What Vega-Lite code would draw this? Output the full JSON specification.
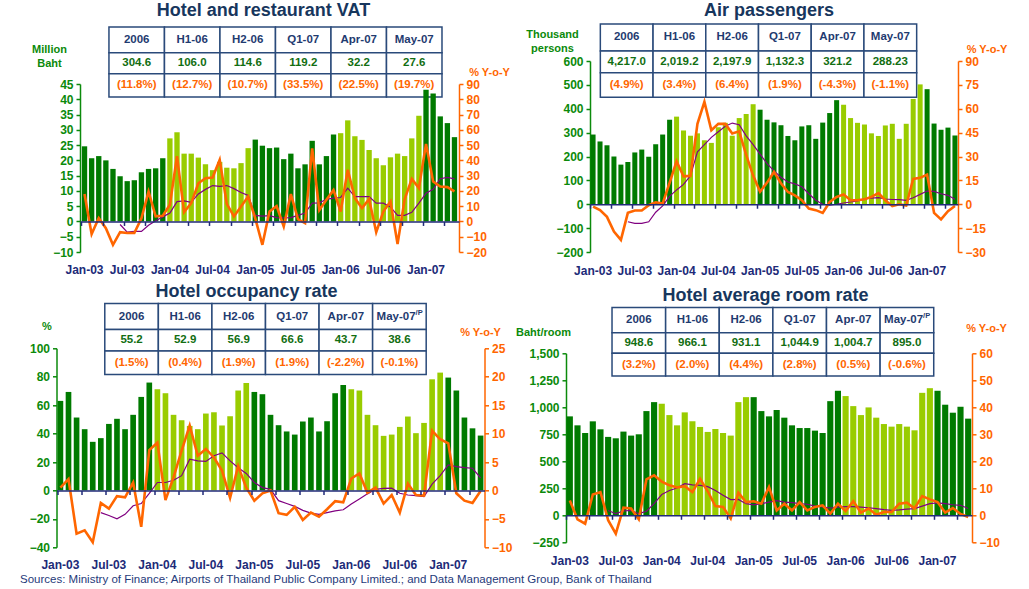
{
"$schema": "https://vega.github.io/schema/vega-lite/v6.json",
"padding": {"left": 10, "top": 1, "right": 5, "bottom": 3},
"config": {"view": {"stroke": null}, "font": "Liberation Sans", "axis": {"labelFont": "Liberation Sans", "titleFont": "Liberation Sans"}, "text": {"font": "Liberation Sans"}, "title": {"font": "Liberation Sans"}},
"title": {"text": "Sources: Ministry of Finance; Airports of Thailand Public Company Limited.; and Data Management Group, Bank of Thailand", "orient": "bottom", "anchor": "start", "frame": "group", "dx": 10, "offset": 4, "fontSize": 11.5, "fontWeight": "normal", "color": "#1F3A7A"},
"datasets": {
"vat": [
{"m":"Jan-03","v":24.6,"y":18,"a":null},{"m":"Feb-03","v":20.7,"y":-8.3,"a":null},{"m":"Mar-03","v":21.4,"y":2.2,"a":null},{"m":"Apr-03","v":20.0,"y":-4.4,"a":null},{"m":"May-03","v":17.2,"y":-15.3,"a":null},{"m":"Jun-03","v":14.8,"y":-7.0,"a":-2.0},{"m":"Jul-03","v":13.2,"y":-7.6,"a":-7.0},{"m":"Aug-03","v":13.5,"y":-7.6,"a":-6.5},{"m":"Sep-03","v":16.1,"y":2.0,"a":-6.5},{"m":"Oct-03","v":17.2,"y":19.5,"a":-2.5},{"m":"Nov-03","v":17.4,"y":3.3,"a":0.5},{"m":"Dec-03","v":20.7,"y":3.7,"a":3.0},
{"m":"Jan-04","v":27.2,"y":10.9,"a":5.5},{"m":"Feb-04","v":29.2,"y":42.7,"a":13.0},{"m":"Mar-04","v":22.2,"y":6.1,"a":13.5},{"m":"Apr-04","v":22.2,"y":12.0,"a":12.5},{"m":"May-04","v":20.9,"y":25.0,"a":18.0},{"m":"Jun-04","v":18.7,"y":28.3,"a":21.0},{"m":"Jul-04","v":16.8,"y":28.8,"a":23.5},{"m":"Aug-04","v":19.5,"y":40.3,"a":23.0},{"m":"Sep-04","v":17.6,"y":11.5,"a":23.5},{"m":"Oct-04","v":17.4,"y":3.3,"a":21.5},{"m":"Nov-04","v":19.1,"y":9.8,"a":19.0},{"m":"Dec-04","v":24.0,"y":16.3,"a":17.0},
{"m":"Jan-05","v":26.8,"y":2.0,"a":4.0},{"m":"Feb-05","v":24.8,"y":-15.3,"a":3.5},{"m":"Mar-05","v":24.0,"y":6.5,"a":3.8},{"m":"Apr-05","v":24.2,"y":10.0,"a":2.5},{"m":"May-05","v":20.4,"y":-3.3,"a":2.3},{"m":"Jun-05","v":22.2,"y":17.9,"a":2.5},{"m":"Jul-05","v":17.4,"y":1.5,"a":4.0},{"m":"Aug-05","v":18.7,"y":-1.1,"a":5.5},{"m":"Sep-05","v":26.4,"y":47.9,"a":12.0},{"m":"Oct-05","v":18.7,"y":7.4,"a":12.2},{"m":"Nov-05","v":21.4,"y":14.2,"a":14.5},{"m":"Dec-05","v":28.5,"y":20.5,"a":15.3},
{"m":"Jan-06","v":28.9,"y":6.5,"a":15.7},{"m":"Feb-06","v":33.1,"y":33.8,"a":21.8},{"m":"Mar-06","v":27.9,"y":15.3,"a":16.3},{"m":"Apr-06","v":26.7,"y":8.7,"a":16.3},{"m":"May-06","v":23.4,"y":14.6,"a":16.3},{"m":"Jun-06","v":20.7,"y":-7.0,"a":12.0},{"m":"Jul-06","v":18.4,"y":6.5,"a":12.0},{"m":"Aug-06","v":21.0,"y":13.0,"a":9.5},{"m":"Sep-06","v":22.2,"y":-14.8,"a":4.0},{"m":"Oct-06","v":21.4,"y":14.6,"a":4.0},{"m":"Nov-06","v":27.2,"y":27.9,"a":6.0},{"m":"Dec-06","v":34.6,"y":21.8,"a":12.0},
{"m":"Jan-07","v":43.1,"y":50.8,"a":18.5},{"m":"Feb-07","v":41.9,"y":26.1,"a":21.0},{"m":"Mar-07","v":34.4,"y":22.9,"a":28.0},{"m":"Apr-07","v":32.2,"y":22.5,"a":28.8},{"m":"May-07","v":27.6,"y":19.7,"a":27.9}
],
"air": [
{"m":"Jan-03","v":292,"y":-1.5,"a":null},{"m":"Feb-03","v":263,"y":-3.7,"a":null},{"m":"Mar-03","v":247,"y":-7.9,"a":null},{"m":"Apr-03","v":200,"y":-17.2,"a":null},{"m":"May-03","v":166,"y":-22.4,"a":null},{"m":"Jun-03","v":177,"y":-5.4,"a":-11},{"m":"Jul-03","v":217,"y":-3.9,"a":-12},{"m":"Aug-03","v":229,"y":-3.9,"a":-12},{"m":"Sep-03","v":199,"y":-0.6,"a":-11},{"m":"Oct-03","v":251,"y":1.2,"a":-5},{"m":"Nov-03","v":292,"y":0.4,"a":-1},{"m":"Dec-03","v":354,"y":13.5,"a":5},
{"m":"Jan-04","v":367,"y":27.0,"a":9},{"m":"Feb-04","v":309,"y":17.5,"a":12.5},{"m":"Mar-04","v":287,"y":17.8,"a":18},{"m":"Apr-04","v":297,"y":50.5,"a":33},{"m":"May-04","v":268,"y":64.3,"a":37.5},{"m":"Jun-04","v":257,"y":46.5,"a":42},{"m":"Jul-04","v":323,"y":50.5,"a":45.5},{"m":"Aug-04","v":341,"y":50.5,"a":49},{"m":"Sep-04","v":287,"y":44.4,"a":51},{"m":"Oct-04","v":361,"y":45.8,"a":50},{"m":"Nov-04","v":378,"y":31.0,"a":43},{"m":"Dec-04","v":419,"y":18.0,"a":37.5},
{"m":"Jan-05","v":396,"y":7.9,"a":31.5},{"m":"Feb-05","v":354,"y":13.6,"a":25.5},{"m":"Mar-05","v":343,"y":20.3,"a":21},{"m":"Apr-05","v":331,"y":13.2,"a":17},{"m":"May-05","v":286,"y":7.7,"a":14},{"m":"Jun-05","v":268,"y":5.6,"a":12.8},{"m":"Jul-05","v":326,"y":2.5,"a":11},{"m":"Aug-05","v":331,"y":-2.7,"a":6.6},{"m":"Sep-05","v":274,"y":-3.7,"a":2.5},{"m":"Oct-05","v":342,"y":-5.4,"a":0},{"m":"Nov-05","v":382,"y":1.4,"a":-0.6},{"m":"Dec-05","v":436,"y":4.6,"a":0},
{"m":"Jan-06","v":417,"y":6.2,"a":0.8},{"m":"Feb-06","v":361,"y":2.5,"a":1.4},{"m":"Mar-06","v":341,"y":2.5,"a":2.1},{"m":"Apr-06","v":334,"y":3.1,"a":3.3},{"m":"May-06","v":297,"y":4.6,"a":3.9},{"m":"Jun-06","v":286,"y":7.0,"a":4.1},{"m":"Jul-06","v":330,"y":2.5,"a":3.3},{"m":"Aug-06","v":337,"y":-1.2,"a":3.0},{"m":"Sep-06","v":274,"y":0.0,"a":2.9},{"m":"Oct-06","v":337,"y":-0.8,"a":2.5},{"m":"Nov-06","v":441,"y":15.9,"a":4.1},{"m":"Dec-06","v":502,"y":16.6,"a":6.2},
{"m":"Jan-07","v":482,"y":18.6,"a":8.3},{"m":"Feb-07","v":338,"y":-5.4,"a":8.1},{"m":"Mar-07","v":312,"y":-9.5,"a":6.6},{"m":"Apr-07","v":321,"y":-4.3,"a":5.6},{"m":"May-07","v":288,"y":-1.1,"a":3.1}
],
"occ": [
{"m":"Jan-03","v":63.0,"y":0.5,"a":null},{"m":"Feb-03","v":69.3,"y":2.0,"a":null},{"m":"Mar-03","v":51.3,"y":-7.6,"a":null},{"m":"Apr-03","v":43.1,"y":-7.0,"a":null},{"m":"May-03","v":34.2,"y":-9.1,"a":null},{"m":"Jun-03","v":36.8,"y":-2.2,"a":-3.9},{"m":"Jul-03","v":46.8,"y":-3.2,"a":-4.4},{"m":"Aug-03","v":50.4,"y":-1.0,"a":-5.0},{"m":"Sep-03","v":43.1,"y":-1.2,"a":-4.2},{"m":"Oct-03","v":53.2,"y":1.4,"a":-2.7},{"m":"Nov-03","v":65.8,"y":-6.4,"a":-2.3},{"m":"Dec-03","v":75.9,"y":7.1,"a":-0.5},
{"m":"Jan-04","v":71.2,"y":8.4,"a":1.4},{"m":"Feb-04","v":68.4,"y":-1.7,"a":1.4},{"m":"Mar-04","v":53.2,"y":2.3,"a":1.8},{"m":"Apr-04","v":49.4,"y":7.0,"a":2.6},{"m":"May-04","v":45.4,"y":11.4,"a":5.5},{"m":"Jun-04","v":43.1,"y":6.1,"a":5.2},{"m":"Jul-04","v":54.1,"y":7.3,"a":5.1},{"m":"Aug-04","v":55.0,"y":5.8,"a":6.1},{"m":"Sep-04","v":45.7,"y":3.5,"a":6.6},{"m":"Oct-04","v":52.2,"y":-1.3,"a":5.2},{"m":"Nov-04","v":70.3,"y":4.3,"a":4.0},{"m":"Dec-04","v":75.6,"y":0.5,"a":3.0},
{"m":"Jan-05","v":69.3,"y":-1.8,"a":1.4},{"m":"Feb-05","v":67.7,"y":-0.5,"a":0.5},{"m":"Mar-05","v":53.2,"y":0.0,"a":0.2},{"m":"Apr-05","v":45.9,"y":-4.0,"a":-1.8},{"m":"May-05","v":41.5,"y":-4.3,"a":-2.3},{"m":"Jun-05","v":39.3,"y":-2.9,"a":-2.8},{"m":"Jul-05","v":48.5,"y":-5.2,"a":-3.5},{"m":"Aug-05","v":51.3,"y":-3.9,"a":-4.0},{"m":"Sep-05","v":41.5,"y":-4.6,"a":-4.2},{"m":"Oct-05","v":48.7,"y":-3.3,"a":-3.9},{"m":"Nov-05","v":68.4,"y":-1.9,"a":-3.6},{"m":"Dec-05","v":74.2,"y":-2.1,"a":-3.4},
{"m":"Jan-06","v":71.2,"y":2.1,"a":-2.4},{"m":"Feb-06","v":70.3,"y":3.0,"a":-1.5},{"m":"Mar-06","v":53.2,"y":-0.4,"a":-0.6},{"m":"Apr-06","v":45.9,"y":0.5,"a":0.2},{"m":"May-06","v":38.4,"y":-2.3,"a":0.35},{"m":"Jun-06","v":39.3,"y":-0.8,"a":0.4},{"m":"Jul-06","v":44.7,"y":-3.9,"a":-0.5},{"m":"Aug-06","v":52.0,"y":1.2,"a":-0.8},{"m":"Sep-06","v":40.3,"y":-0.8,"a":-0.9},{"m":"Oct-06","v":47.5,"y":-0.9,"a":-1.1},{"m":"Nov-06","v":78.2,"y":10.5,"a":1.1},{"m":"Dec-06","v":82.9,"y":9.0,"a":2.6},
{"m":"Jan-07","v":79.4,"y":8.3,"a":4.5},{"m":"Feb-07","v":70.3,"y":-0.5,"a":4.2},{"m":"Mar-07","v":51.3,"y":-1.8,"a":4.0},{"m":"Apr-07","v":43.7,"y":-2.2,"a":3.9},{"m":"May-07","v":38.6,"y":-0.1,"a":2.2}
],
"room": [
{"m":"Jan-03","v":916,"y":5.5,"a":null},{"m":"Feb-03","v":833,"y":-1.5,"a":null},{"m":"Mar-03","v":762,"y":-3.1,"a":null},{"m":"Apr-03","v":870,"y":7.7,"a":null},{"m":"May-03","v":796,"y":8.6,"a":null},{"m":"Jun-03","v":726,"y":-1.8,"a":1.8},{"m":"Jul-03","v":713,"y":-6.8,"a":0.6},{"m":"Aug-03","v":775,"y":2.8,"a":1.6},{"m":"Sep-03","v":738,"y":2.5,"a":1.8},{"m":"Oct-03","v":750,"y":-1.5,"a":0.6},{"m":"Nov-03","v":965,"y":13.3,"a":1.5},{"m":"Dec-03","v":1048,"y":14.8,"a":4.3},
{"m":"Jan-04","v":1033,"y":12.5,"a":7.7},{"m":"Feb-04","v":928,"y":11.1,"a":9.2},{"m":"Mar-04","v":833,"y":10.3,"a":10.1},{"m":"Apr-04","v":953,"y":10.8,"a":11.7},{"m":"May-04","v":870,"y":8.6,"a":11.3},{"m":"Jun-04","v":818,"y":13.5,"a":11.1},{"m":"Jul-04","v":772,"y":8.9,"a":10.6},{"m":"Aug-04","v":799,"y":3.4,"a":9.2},{"m":"Sep-04","v":762,"y":3.1,"a":7.4},{"m":"Oct-04","v":738,"y":-1.2,"a":5.8},{"m":"Nov-04","v":1048,"y":8.4,"a":5.9},{"m":"Dec-04","v":1094,"y":4.9,"a":4.3},
{"m":"Jan-05","v":1094,"y":5.2,"a":3.9},{"m":"Feb-05","v":965,"y":4.3,"a":4.3},{"m":"Mar-05","v":916,"y":10.5,"a":4.9},{"m":"Apr-05","v":975,"y":1.8,"a":5.4},{"m":"May-05","v":904,"y":4.3,"a":4.9},{"m":"Jun-05","v":833,"y":1.8,"a":4.7},{"m":"Jul-05","v":808,"y":4.9,"a":4.3},{"m":"Aug-05","v":808,"y":1.8,"a":4.1},{"m":"Sep-05","v":784,"y":3.1,"a":3.4},{"m":"Oct-05","v":762,"y":3.7,"a":3.1},{"m":"Nov-05","v":1057,"y":0.6,"a":2.7},{"m":"Dec-05","v":1153,"y":4.3,"a":3.0},
{"m":"Jan-06","v":1104,"y":1.6,"a":3.2},{"m":"Feb-06","v":1011,"y":5.2,"a":3.2},{"m":"Mar-06","v":928,"y":1.0,"a":3.0},{"m":"Apr-06","v":999,"y":2.5,"a":2.8},{"m":"May-06","v":904,"y":0.2,"a":2.5},{"m":"Jun-06","v":845,"y":1.2,"a":2.1},{"m":"Jul-06","v":821,"y":1.2,"a":1.8},{"m":"Aug-06","v":845,"y":4.3,"a":2.0},{"m":"Sep-06","v":821,"y":4.7,"a":2.3},{"m":"Oct-06","v":787,"y":2.5,"a":2.5},{"m":"Nov-06","v":1134,"y":7.1,"a":3.4},{"m":"Dec-06","v":1177,"y":5.9,"a":4.3},
{"m":"Jan-07","v":1153,"y":4.9,"a":4.6},{"m":"Feb-07","v":1024,"y":1.0,"a":4.3},{"m":"Mar-07","v":950,"y":2.7,"a":3.9},{"m":"Apr-07","v":1005,"y":0.5,"a":3.7},{"m":"May-07","v":895,"y":-0.6,"a":2.5}
],
"t_vat": [{"h":"2006","v":"304.6","p":"(11.8%)"},{"h":"H1-06","v":"106.0","p":"(12.7%)"},{"h":"H2-06","v":"114.6","p":"(10.7%)"},{"h":"Q1-07","v":"119.2","p":"(33.5%)"},{"h":"Apr-07","v":"32.2","p":"(22.5%)"},{"h":"May-07","v":"27.6","p":"(19.7%)"}],
"t_air": [{"h":"2006","v":"4,217.0","p":"(4.9%)"},{"h":"H1-06","v":"2,019.2","p":"(3.4%)"},{"h":"H2-06","v":"2,197.9","p":"(6.4%)"},{"h":"Q1-07","v":"1,132.3","p":"(1.9%)"},{"h":"Apr-07","v":"321.2","p":"(-4.3%)"},{"h":"May-07","v":"288.23","p":"(-1.1%)"}],
"t_occ": [{"h":"2006","v":"55.2","p":"(1.5%)"},{"h":"H1-06","v":"52.9","p":"(0.4%)"},{"h":"H2-06","v":"56.9","p":"(1.9%)"},{"h":"Q1-07","v":"66.6","p":"(1.9%)"},{"h":"Apr-07","v":"43.7","p":"(-2.2%)"},{"h":"May-07","s":"/P","v":"38.6","p":"(-0.1%)"}],
"t_room": [{"h":"2006","v":"948.6","p":"(3.2%)"},{"h":"H1-06","v":"966.1","p":"(2.0%)"},{"h":"H2-06","v":"931.1","p":"(4.4%)"},{"h":"Q1-07","v":"1,044.9","p":"(2.8%)"},{"h":"Apr-07","v":"1,004.7","p":"(0.5%)"},{"h":"May-07","s":"/P","v":"895.0","p":"(-0.6%)"}]
},
"spacing": 5.3,
"vconcat": [
{"hconcat": [
 {"width": 5.5, "height": 1, "data": {"values": []}, "mark": "point"},
 {"vconcat": [
  {"width": 1, "height": 1, "data": {"values": []}, "mark": "point"},
  {"width": 379, "height": 168,
  "title": {"text": "Hotel and restaurant VAT", "frame": "group", "anchor": "middle", "dx": -6, "offset": 6, "fontSize": 18, "fontWeight": "bold", "color": "#17365D"},
  "layer": [
   {"data": {"name": "t_vat"},
    "encoding": {"x": {"field": "h", "type": "nominal", "sort": null, "scale": {"type": "band", "paddingInner": 0, "paddingOuter": 0.414, "align": 0.63}, "axis": null}},
    "layer": [
     {"mark": {"type": "rect", "fill": "#FFFFFF", "stroke": "#2A4A7A", "strokeWidth": 1.5}, "encoding": {"y": {"datum": 1.9, "type": "quantitative", "scale": {"domain": [-6.643, 0.557], "nice": false, "zero": false}, "axis": null}, "y2": {"datum": 3}}},
     {"mark": {"type": "rect", "fill": "#FFFFFF", "stroke": "#2A4A7A", "strokeWidth": 1.5}, "encoding": {"y": {"datum": 1, "type": "quantitative", "axis": null}, "y2": {"datum": 1.9}}},
     {"mark": {"type": "rect", "fill": "#FFFFFF", "stroke": "#2A4A7A", "strokeWidth": 1.5}, "encoding": {"y": {"datum": 0, "type": "quantitative", "axis": null}, "y2": {"datum": 1}}},
     {"mark": {"type": "text", "fontSize": 11.5, "fontWeight": "bold", "color": "#1F3B70", "baseline": "middle"}, "encoding": {"y": {"datum": 2.45, "type": "quantitative", "axis": null}, "text": {"field": "h"}}},
     {"mark": {"type": "text", "fontSize": 11.5, "fontWeight": "bold", "color": "#126E12", "baseline": "middle"}, "encoding": {"y": {"datum": 1.45, "type": "quantitative", "axis": null}, "text": {"field": "v"}}},
     {"mark": {"type": "text", "fontSize": 11.5, "fontWeight": "bold", "color": "#FF6600", "baseline": "middle"}, "encoding": {"y": {"datum": 0.5, "type": "quantitative", "axis": null}, "text": {"field": "p"}}}
    ]},
   {"data": {"name": "vat"},
    "layer": [
     {"mark": {"type": "bar"},
      "encoding": {
       "x": {"field": "m", "type": "ordinal", "sort": null, "scale": {"type": "band", "paddingInner": 0.25, "paddingOuter": 0.26},
             "axis": {"values": ["Jan-03","Jul-03","Jan-04","Jul-04","Jan-05","Jul-05","Jan-06","Jul-06","Jan-07"], "domain": false, "ticks": false, "grid": false, "labelAngle": 0, "labelPadding": 12, "labelFontSize": 12, "labelFontWeight": "bold", "labelColor": "#202A78", "labelOverlap": false, "labelFlush": false, "title": null}},
       "y": {"field": "v", "type": "quantitative", "scale": {"domain": [-10, 45], "nice": false},
             "axis": {"orient": "left", "values": [-10,-5,0,5,10,15,20,25,30,35,40,45], "grid": false, "domainColor": "#0B8A0B", "domainWidth": 1.5, "tickColor": "#0B8A0B", "tickWidth": 1.5, "tickSize": 4, "labelColor": "#0B8A0B", "labelFontSize": 12, "labelFontWeight": "bold", "labelPadding": 3, "labelFlush": false, "labelOverlap": false,
                      "title": ["Million", "Baht"], "titleAngle": 0, "titleX": -31, "titleY": -41, "titleAlign": "center", "titleBaseline": "top", "titleColor": "#0B8A0B", "titleFontSize": 11, "titleFontWeight": "bold", "titleLineHeight": 14}},
       "color": {"condition": {"test": "test(/-0[357]$/, datum.m)", "value": "#007A00"}, "value": "#99CC00"}
      }},
     {"mark": {"type": "line", "color": "#800080", "strokeWidth": 1.2},
      "encoding": {
       "x": {"field": "m", "type": "ordinal", "sort": null, "scale": {"type": "band", "paddingInner": 0.25, "paddingOuter": 0.26}, "axis": null},
       "y": {"field": "a", "type": "quantitative", "scale": {"domain": [-20, 90], "nice": false}, "axis": null}
      }},
     {"mark": {"type": "line", "color": "#FF6600", "strokeWidth": 2.6},
      "encoding": {
       "x": {"field": "m", "type": "ordinal", "sort": null, "scale": {"type": "band", "paddingInner": 0.25, "paddingOuter": 0.26},
             "axis": {"orient": "bottom", "offset": -30.55, "values": ["Jan-03","Apr-03","Jul-03","Oct-03","Jan-04","Apr-04","Jul-04","Oct-04","Jan-05","Apr-05","Jul-05","Oct-05","Jan-06","Apr-06","Jul-06","Oct-06","Jan-07","Apr-07"], "bandPosition": 0, "labels": false, "grid": false, "title": null, "domainColor": "#202A78", "domainWidth": 1.5, "tickColor": "#202A78", "tickWidth": 1.5, "tickSize": 4, "zindex": 1}},
       "y": {"field": "y", "type": "quantitative", "scale": {"domain": [-20, 90], "nice": false},
             "axis": {"orient": "right", "values": [-20,-10,0,10,20,30,40,50,60,70,80,90], "grid": false, "domainColor": "#FF6600", "domainWidth": 1.5, "tickColor": "#FF6600", "tickWidth": 1.5, "tickSize": 4, "labelColor": "#FF6600", "labelFontSize": 12, "labelFontWeight": "bold", "labelPadding": 3, "labelFlush": false, "labelOverlap": false,
                      "title": "% Y-o-Y", "titleAngle": 0, "titleX": 30, "titleY": -18, "titleAlign": "center", "titleBaseline": "top", "titleColor": "#FF6600", "titleFontSize": 11, "titleFontWeight": "bold"}}
      }}
    ],
    "resolve": {"scale": {"y": "independent"}, "axis": {"x": "independent", "y": "independent"}}}
  ],
  "resolve": {"scale": {"x": "independent", "y": "independent"}}}
 ], "spacing": 0},
 {"vconcat": [
  {"width": 1, "height": 1, "data": {"values": []}, "mark": "point"},
  {"width": 368, "height": 191,
  "title": {"text": "Air passengers", "frame": "group", "anchor": "middle", "dx": -5, "offset": 3, "fontSize": 18, "fontWeight": "bold", "color": "#17365D"},
  "layer": [
   {"data": {"name": "t_air"},
    "encoding": {"x": {"field": "h", "type": "nominal", "sort": null, "scale": {"type": "band", "paddingInner": 0, "paddingOuter": 0.49, "align": 0.2}, "axis": null}},
    "layer": [
     {"mark": {"type": "rect", "fill": "#FFFFFF", "stroke": "#2A4A7A", "strokeWidth": 1.5}, "encoding": {"y": {"datum": 1.9, "type": "quantitative", "scale": {"domain": [-6.332, 1.486], "nice": false, "zero": false}, "axis": null}, "y2": {"datum": 3}}},
     {"mark": {"type": "rect", "fill": "#FFFFFF", "stroke": "#2A4A7A", "strokeWidth": 1.5}, "encoding": {"y": {"datum": 1, "type": "quantitative", "axis": null}, "y2": {"datum": 1.9}}},
     {"mark": {"type": "rect", "fill": "#FFFFFF", "stroke": "#2A4A7A", "strokeWidth": 1.5}, "encoding": {"y": {"datum": 0, "type": "quantitative", "axis": null}, "y2": {"datum": 1}}},
     {"mark": {"type": "text", "fontSize": 11.5, "fontWeight": "bold", "color": "#1F3B70", "baseline": "middle"}, "encoding": {"y": {"datum": 2.45, "type": "quantitative", "axis": null}, "text": {"field": "h"}}},
     {"mark": {"type": "text", "fontSize": 11.5, "fontWeight": "bold", "color": "#126E12", "baseline": "middle"}, "encoding": {"y": {"datum": 1.45, "type": "quantitative", "axis": null}, "text": {"field": "v"}}},
     {"mark": {"type": "text", "fontSize": 11.5, "fontWeight": "bold", "color": "#FF6600", "baseline": "middle"}, "encoding": {"y": {"datum": 0.5, "type": "quantitative", "axis": null}, "text": {"field": "p"}}}
    ]},
   {"data": {"name": "air"},
    "layer": [
     {"mark": {"type": "bar"},
      "encoding": {
       "x": {"field": "m", "type": "ordinal", "sort": null, "scale": {"type": "band", "paddingInner": 0.28, "paddingOuter": 0.08},
             "axis": {"values": ["Jan-03","Jul-03","Jan-04","Jul-04","Jan-05","Jul-05","Jan-06","Jul-06","Jan-07"], "domain": false, "ticks": false, "grid": false, "labelAngle": 0, "labelPadding": 13, "labelFontSize": 12, "labelFontWeight": "bold", "labelColor": "#202A78", "labelOverlap": false, "labelFlush": false, "title": null}},
       "y": {"field": "v", "type": "quantitative", "scale": {"domain": [-200, 600], "nice": false},
             "axis": {"orient": "left", "values": [-200,-100,0,100,200,300,400,500,600], "grid": false, "domainColor": "#0B8A0B", "domainWidth": 1.5, "tickColor": "#0B8A0B", "tickWidth": 1.5, "tickSize": 4, "labelColor": "#0B8A0B", "labelFontSize": 12, "labelFontWeight": "bold", "labelPadding": 3, "labelFlush": false, "labelOverlap": false,
                      "title": ["Thousand", "persons"], "titleAngle": 0, "titleX": -38, "titleY": -33, "titleAlign": "center", "titleBaseline": "top", "titleColor": "#0B8A0B", "titleFontSize": 11, "titleFontWeight": "bold", "titleLineHeight": 14}},
       "color": {"condition": {"test": "test(/-0[357]$/, datum.m)", "value": "#007A00"}, "value": "#99CC00"}
      }},
     {"mark": {"type": "line", "color": "#800080", "strokeWidth": 1.2},
      "encoding": {
       "x": {"field": "m", "type": "ordinal", "sort": null, "scale": {"type": "band", "paddingInner": 0.28, "paddingOuter": 0.08}, "axis": null},
       "y": {"field": "a", "type": "quantitative", "scale": {"domain": [-30, 90], "nice": false}, "axis": null}
      }},
     {"mark": {"type": "line", "color": "#FF6600", "strokeWidth": 2.6},
      "encoding": {
       "x": {"field": "m", "type": "ordinal", "sort": null, "scale": {"type": "band", "paddingInner": 0.28, "paddingOuter": 0.08},
             "axis": {"orient": "bottom", "offset": -47.75, "values": ["Jan-03","Apr-03","Jul-03","Oct-03","Jan-04","Apr-04","Jul-04","Oct-04","Jan-05","Apr-05","Jul-05","Oct-05","Jan-06","Apr-06","Jul-06","Oct-06","Jan-07","Apr-07"], "bandPosition": 0, "labels": false, "grid": false, "title": null, "domainColor": "#202A78", "domainWidth": 1.5, "tickColor": "#202A78", "tickWidth": 1.5, "tickSize": 4, "zindex": 1}},
       "y": {"field": "y", "type": "quantitative", "scale": {"domain": [-30, 90], "nice": false},
             "axis": {"orient": "right", "values": [-30,-15,0,15,30,45,60,75,90], "grid": false, "domainColor": "#FF6600", "domainWidth": 1.5, "tickColor": "#FF6600", "tickWidth": 1.5, "tickSize": 4, "labelColor": "#FF6600", "labelFontSize": 12, "labelFontWeight": "bold", "labelPadding": 3, "labelFlush": false, "labelOverlap": false,
                      "title": "% Y-o-Y", "titleAngle": 0, "titleX": 28.5, "titleY": -18, "titleAlign": "center", "titleBaseline": "top", "titleColor": "#FF6600", "titleFontSize": 11, "titleFontWeight": "bold"}}
      }}
    ],
    "resolve": {"scale": {"y": "independent"}, "axis": {"x": "independent", "y": "independent"}}}
  ],
  "resolve": {"scale": {"x": "independent", "y": "independent"}}}
 ], "spacing": 0}
], "spacing": 15},
{"hconcat": [
 {"width": 15.2, "height": 1, "data": {"values": []}, "mark": "point"},
 {"vconcat": [
  {"width": 1, "height": 1, "data": {"values": []}, "mark": "point"},
  {"width": 428, "height": 199,
  "title": {"text": "Hotel occupancy rate", "frame": "group", "anchor": "middle", "dx": -24, "offset": 2, "fontSize": 18, "fontWeight": "bold", "color": "#17365D"},
  "layer": [
   {"data": {"name": "t_occ"},
    "encoding": {"x": {"field": "h", "type": "nominal", "sort": null, "scale": {"type": "band", "paddingInner": 0, "paddingOuter": 0.995, "align": 0.453}, "axis": null}},
    "layer": [
     {"mark": {"type": "rect", "fill": "#FFFFFF", "stroke": "#2A4A7A", "strokeWidth": 1.5}, "encoding": {"y": {"datum": 1.9, "type": "quantitative", "scale": {"domain": [-7.296, 1.111], "nice": false, "zero": false}, "axis": null}, "y2": {"datum": 3}}},
     {"mark": {"type": "rect", "fill": "#FFFFFF", "stroke": "#2A4A7A", "strokeWidth": 1.5}, "encoding": {"y": {"datum": 1, "type": "quantitative", "axis": null}, "y2": {"datum": 1.9}}},
     {"mark": {"type": "rect", "fill": "#FFFFFF", "stroke": "#2A4A7A", "strokeWidth": 1.5}, "encoding": {"y": {"datum": 0, "type": "quantitative", "axis": null}, "y2": {"datum": 1}}},
     {"transform": [{"filter": "!datum.s"}], "mark": {"type": "text", "fontSize": 11.5, "fontWeight": "bold", "color": "#1F3B70", "baseline": "middle"}, "encoding": {"y": {"datum": 2.45, "type": "quantitative", "axis": null}, "text": {"field": "h"}}},
     {"transform": [{"filter": "datum.s"}], "mark": {"type": "text", "fontSize": 11.5, "fontWeight": "bold", "color": "#1F3B70", "baseline": "middle", "dx": -3.3}, "encoding": {"y": {"datum": 2.45, "type": "quantitative", "axis": null}, "text": {"field": "h"}}},
     {"transform": [{"filter": "datum.s"}], "mark": {"type": "text", "fontSize": 7.5, "fontWeight": "bold", "color": "#1F3B70", "baseline": "middle", "align": "left", "dx": 16.2, "dy": -4}, "encoding": {"y": {"datum": 2.45, "type": "quantitative", "axis": null}, "text": {"field": "s"}}},
     {"mark": {"type": "text", "fontSize": 11.5, "fontWeight": "bold", "color": "#126E12", "baseline": "middle"}, "encoding": {"y": {"datum": 1.45, "type": "quantitative", "axis": null}, "text": {"field": "v"}}},
     {"mark": {"type": "text", "fontSize": 11.5, "fontWeight": "bold", "color": "#FF6600", "baseline": "middle"}, "encoding": {"y": {"datum": 0.5, "type": "quantitative", "axis": null}, "text": {"field": "p"}}}
    ]},
   {"data": {"name": "occ"},
    "layer": [
     {"mark": {"type": "bar"},
      "encoding": {
       "x": {"field": "m", "type": "ordinal", "sort": null, "scale": {"type": "band", "paddingInner": 0.3, "paddingOuter": 0.135},
             "axis": {"values": ["Jan-03","Jul-03","Jan-04","Jul-04","Jan-05","Jul-05","Jan-06","Jul-06","Jan-07"], "domain": false, "ticks": false, "grid": false, "labelAngle": 0, "labelPadding": 12, "labelFontSize": 12, "labelFontWeight": "bold", "labelColor": "#202A78", "labelOverlap": false, "labelFlush": false, "title": null}},
       "y": {"field": "v", "type": "quantitative", "scale": {"domain": [-40, 100], "nice": false},
             "axis": {"orient": "left", "values": [-40,-20,0,20,40,60,80,100], "grid": false, "domainColor": "#0B8A0B", "domainWidth": 1.5, "tickColor": "#0B8A0B", "tickWidth": 1.5, "tickSize": 4, "labelColor": "#0B8A0B", "labelFontSize": 12, "labelFontWeight": "bold", "labelPadding": 3, "labelFlush": false, "labelOverlap": false,
                      "title": "%", "titleAngle": 0, "titleX": -10, "titleY": -28, "titleAlign": "center", "titleBaseline": "top", "titleColor": "#0B8A0B", "titleFontSize": 11, "titleFontWeight": "bold"}},
       "color": {"condition": {"test": "test(/-0[357]$/, datum.m)", "value": "#007A00"}, "value": "#99CC00"}
      }},
     {"mark": {"type": "line", "color": "#800080", "strokeWidth": 1.2},
      "encoding": {
       "x": {"field": "m", "type": "ordinal", "sort": null, "scale": {"type": "band", "paddingInner": 0.3, "paddingOuter": 0.135}, "axis": null},
       "y": {"field": "a", "type": "quantitative", "scale": {"domain": [-10, 25], "nice": false}, "axis": null}
      }},
     {"mark": {"type": "line", "color": "#FF6600", "strokeWidth": 2.6},
      "encoding": {
       "x": {"field": "m", "type": "ordinal", "sort": null, "scale": {"type": "band", "paddingInner": 0.3, "paddingOuter": 0.135},
             "axis": {"orient": "bottom", "offset": -56.86, "values": ["Jan-03","Apr-03","Jul-03","Oct-03","Jan-04","Apr-04","Jul-04","Oct-04","Jan-05","Apr-05","Jul-05","Oct-05","Jan-06","Apr-06","Jul-06","Oct-06","Jan-07","Apr-07"], "bandPosition": 0, "labels": false, "grid": false, "title": null, "domainColor": "#202A78", "domainWidth": 1.5, "tickColor": "#202A78", "tickWidth": 1.5, "tickSize": 4, "zindex": 1}},
       "y": {"field": "y", "type": "quantitative", "scale": {"domain": [-10, 25], "nice": false},
             "axis": {"orient": "right", "values": [-10,-5,0,5,10,15,20,25], "grid": false, "domainColor": "#FF6600", "domainWidth": 1.5, "tickColor": "#FF6600", "tickWidth": 1.5, "tickSize": 4, "labelColor": "#FF6600", "labelFontSize": 12, "labelFontWeight": "bold", "labelPadding": 3, "labelFlush": false, "labelOverlap": false,
                      "title": "% Y-o-Y", "titleAngle": 0, "titleX": -4.5, "titleY": -22, "titleAlign": "center", "titleBaseline": "top", "titleColor": "#FF6600", "titleFontSize": 11, "titleFontWeight": "bold"}}
      }}
    ],
    "resolve": {"scale": {"y": "independent"}, "axis": {"x": "independent", "y": "independent"}}}
  ],
  "resolve": {"scale": {"x": "independent", "y": "independent"}}}
 ], "spacing": 0},
 {"vconcat": [
  {"width": 1, "height": 5, "data": {"values": []}, "mark": "point"},
  {"width": 406, "height": 189,
  "title": {"text": "Hotel average room rate", "frame": "group", "anchor": "middle", "dx": -3.5, "offset": 2, "fontSize": 18, "fontWeight": "bold", "color": "#17365D"},
  "layer": [
   {"data": {"name": "t_room"},
    "encoding": {"x": {"field": "h", "type": "nominal", "sort": null, "scale": {"type": "band", "paddingInner": 0, "paddingOuter": 0.786, "align": 0.546}, "axis": null}},
    "layer": [
     {"mark": {"type": "rect", "fill": "#FFFFFF", "stroke": "#2A4A7A", "strokeWidth": 1.5}, "encoding": {"y": {"datum": 1.9, "type": "quantitative", "scale": {"domain": [-7.294, 0.996], "nice": false, "zero": false}, "axis": null}, "y2": {"datum": 3}}},
     {"mark": {"type": "rect", "fill": "#FFFFFF", "stroke": "#2A4A7A", "strokeWidth": 1.5}, "encoding": {"y": {"datum": 1, "type": "quantitative", "axis": null}, "y2": {"datum": 1.9}}},
     {"mark": {"type": "rect", "fill": "#FFFFFF", "stroke": "#2A4A7A", "strokeWidth": 1.5}, "encoding": {"y": {"datum": 0, "type": "quantitative", "axis": null}, "y2": {"datum": 1}}},
     {"transform": [{"filter": "!datum.s"}], "mark": {"type": "text", "fontSize": 11.5, "fontWeight": "bold", "color": "#1F3B70", "baseline": "middle"}, "encoding": {"y": {"datum": 2.45, "type": "quantitative", "axis": null}, "text": {"field": "h"}}},
     {"transform": [{"filter": "datum.s"}], "mark": {"type": "text", "fontSize": 11.5, "fontWeight": "bold", "color": "#1F3B70", "baseline": "middle", "dx": -3.3}, "encoding": {"y": {"datum": 2.45, "type": "quantitative", "axis": null}, "text": {"field": "h"}}},
     {"transform": [{"filter": "datum.s"}], "mark": {"type": "text", "fontSize": 7.5, "fontWeight": "bold", "color": "#1F3B70", "baseline": "middle", "align": "left", "dx": 16.2, "dy": -4}, "encoding": {"y": {"datum": 2.45, "type": "quantitative", "axis": null}, "text": {"field": "s"}}},
     {"mark": {"type": "text", "fontSize": 11.5, "fontWeight": "bold", "color": "#126E12", "baseline": "middle"}, "encoding": {"y": {"datum": 1.45, "type": "quantitative", "axis": null}, "text": {"field": "v"}}},
     {"mark": {"type": "text", "fontSize": 11.5, "fontWeight": "bold", "color": "#FF6600", "baseline": "middle"}, "encoding": {"y": {"datum": 0.5, "type": "quantitative", "axis": null}, "text": {"field": "p"}}}
    ]},
   {"data": {"name": "room"},
    "layer": [
     {"mark": {"type": "bar"},
      "encoding": {
       "x": {"field": "m", "type": "ordinal", "sort": null, "scale": {"type": "band", "paddingInner": 0.2, "paddingOuter": 0.1},
             "axis": {"values": ["Jan-03","Jul-03","Jan-04","Jul-04","Jan-05","Jul-05","Jan-06","Jul-06","Jan-07"], "domain": false, "ticks": false, "grid": false, "labelAngle": 0, "labelPadding": 13, "labelFontSize": 12, "labelFontWeight": "bold", "labelColor": "#202A78", "labelOverlap": false, "labelFlush": false, "title": null}},
       "y": {"field": "v", "type": "quantitative", "scale": {"domain": [-250, 1500], "nice": false},
             "axis": {"orient": "left", "values": [-250,0,250,500,750,1000,1250,1500], "labelExpr": "format(datum.value, ',')", "grid": false, "domainColor": "#0B8A0B", "domainWidth": 1.5, "tickColor": "#0B8A0B", "tickWidth": 1.5, "tickSize": 4, "labelColor": "#0B8A0B", "labelFontSize": 12, "labelFontWeight": "bold", "labelPadding": 3, "labelFlush": false, "labelOverlap": false,
                      "title": "Baht/room", "titleAngle": 0, "titleX": -23, "titleY": -27, "titleAlign": "center", "titleBaseline": "top", "titleColor": "#0B8A0B", "titleFontSize": 11, "titleFontWeight": "bold"}},
       "color": {"condition": {"test": "test(/-0[357]$/, datum.m)", "value": "#007A00"}, "value": "#99CC00"}
      }},
     {"mark": {"type": "line", "color": "#800080", "strokeWidth": 1.2},
      "encoding": {
       "x": {"field": "m", "type": "ordinal", "sort": null, "scale": {"type": "band", "paddingInner": 0.2, "paddingOuter": 0.1}, "axis": null},
       "y": {"field": "a", "type": "quantitative", "scale": {"domain": [-10, 60], "nice": false}, "axis": null}
      }},
     {"mark": {"type": "line", "color": "#FF6600", "strokeWidth": 2.6},
      "encoding": {
       "x": {"field": "m", "type": "ordinal", "sort": null, "scale": {"type": "band", "paddingInner": 0.2, "paddingOuter": 0.1},
             "axis": {"orient": "bottom", "offset": -27, "values": ["Jan-03","Apr-03","Jul-03","Oct-03","Jan-04","Apr-04","Jul-04","Oct-04","Jan-05","Apr-05","Jul-05","Oct-05","Jan-06","Apr-06","Jul-06","Oct-06","Jan-07","Apr-07"], "bandPosition": 0, "labels": false, "grid": false, "title": null, "domainColor": "#202A78", "domainWidth": 1.5, "tickColor": "#202A78", "tickWidth": 1.5, "tickSize": 4, "zindex": 1}},
       "y": {"field": "y", "type": "quantitative", "scale": {"domain": [-10, 60], "nice": false},
             "axis": {"orient": "right", "values": [-10,0,10,20,30,40,50,60], "grid": false, "domainColor": "#FF6600", "domainWidth": 1.5, "tickColor": "#FF6600", "tickWidth": 1.5, "tickSize": 4, "labelColor": "#FF6600", "labelFontSize": 12, "labelFontWeight": "bold", "labelPadding": 3, "labelFlush": false, "labelOverlap": false,
                      "title": "% Y-o-Y", "titleAngle": 0, "titleX": 14, "titleY": -31, "titleAlign": "center", "titleBaseline": "top", "titleColor": "#FF6600", "titleFontSize": 11, "titleFontWeight": "bold"}}
      }}
    ],
    "resolve": {"scale": {"y": "independent"}, "axis": {"x": "independent", "y": "independent"}}}
  ],
  "resolve": {"scale": {"x": "independent", "y": "independent"}}}
 ], "spacing": 0}
], "spacing": 2.5}
]
}
